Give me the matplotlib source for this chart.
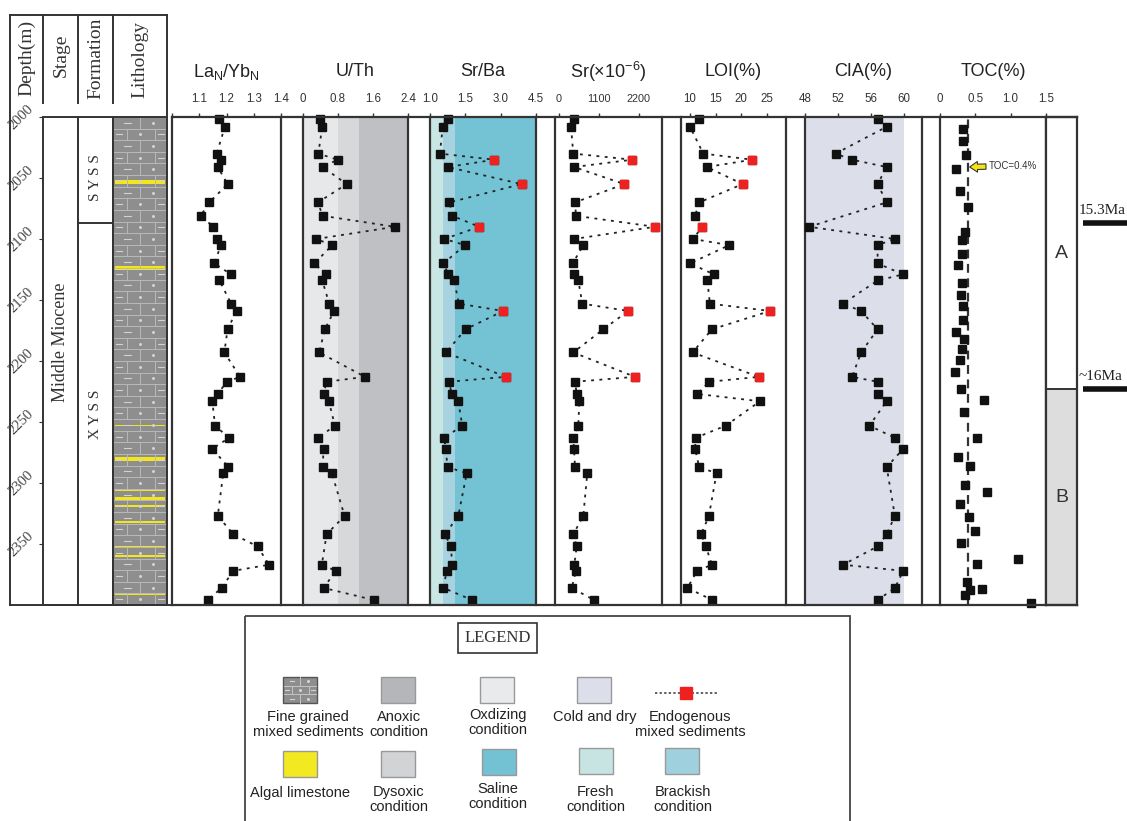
import numpy as np
import matplotlib.pyplot as plt
from matplotlib.patches import Rectangle

plt.rcParams['font.family'] = ['Liberation Sans', 'DejaVu Sans']
SERIF = ['Liberation Serif', 'DejaVu Serif']

W, H = 1127, 821
TOP, BOT = 117, 605          # pixel rows of depth 2000 m and 2400 m
D0, D1 = 2000, 2400

# ---- data ----
# samples shared by La/Yb, Sr/Ba, Sr and LOI
depth = [2002, 2008, 2030, 2035, 2041, 2055, 2070, 2081, 2090, 2100, 2105, 2120,
         2129, 2134, 2153, 2159, 2174, 2193, 2213, 2217, 2227, 2233, 2253, 2263,
         2272, 2287, 2292, 2327, 2342, 2352, 2367, 2372, 2386, 2396]
la_yb = [1.174, 1.194, 1.164, 1.180, 1.168, 1.204, 1.137, 1.105, 1.152, 1.164, 1.180, 1.155,
         1.217, 1.174, 1.217, 1.237, 1.204, 1.192, 1.250, 1.201, 1.168, 1.148, 1.158, 1.209,
         1.148, 1.207, 1.188, 1.168, 1.225, 1.314, 1.356, 1.225, 1.182, 1.131]
sr_ba = [0.75, 0.54, 0.42, 2.73, 0.75, 3.89, 0.82, 0.95, 2.09, 0.61, 1.49, 0.57,
         0.78, 1.02, 1.23, 3.11, 1.51, 0.68, 3.21, 0.81, 0.92, 1.20, 1.37, 0.61,
         0.66, 0.75, 1.56, 1.20, 0.64, 0.88, 0.95, 0.71, 0.57, 1.80]
sr = [413, 330, 393, 2016, 413, 1796, 440, 468, 2640, 413, 668, 377,
      413, 531, 641, 1906, 1218, 393, 2090, 440, 487, 558, 531, 393,
      413, 440, 778, 668, 393, 487, 421, 468, 349, 971]
loi = [11.8, 10.0, 12.6, 22.2, 13.3, 20.3, 11.8, 11.0, 12.4, 10.6, 17.7, 10.0,
       14.7, 13.4, 13.9, 25.7, 14.3, 10.5, 23.5, 13.8, 11.4, 23.7, 17.0, 11.1,
       11.0, 11.8, 15.2, 13.7, 12.2, 13.1, 14.3, 11.4, 9.5, 14.4]
endogenous = [2035, 2055, 2090, 2159, 2213]

depth_uth = [2002, 2008, 2030, 2035, 2041, 2055, 2070, 2081, 2090, 2100, 2105, 2120,
             2129, 2134, 2153, 2159, 2174, 2193, 2213, 2217, 2227, 2233, 2253, 2263,
             2272, 2287, 2292, 2327, 2342, 2367, 2372, 2386, 2396]
u_th = [0.39, 0.44, 0.35, 0.79, 0.45, 1.00, 0.34, 0.45, 2.10, 0.30, 0.67, 0.26,
        0.52, 0.44, 0.60, 0.71, 0.50, 0.37, 1.42, 0.54, 0.47, 0.59, 0.73, 0.34,
        0.47, 0.45, 0.66, 0.95, 0.54, 0.43, 0.75, 0.47, 1.63]

depth_cia = [2002, 2008, 2030, 2035, 2041, 2055, 2070, 2090, 2100, 2105, 2120, 2129,
             2134, 2153, 2159, 2174, 2193, 2213, 2217, 2227, 2233, 2253, 2263, 2272,
             2287, 2327, 2342, 2352, 2367, 2372, 2386, 2396]
cia = [56.8, 57.9, 51.7, 53.7, 57.9, 56.8, 57.9, 48.5, 58.9, 56.8, 56.8, 59.9,
       56.8, 52.6, 54.8, 56.8, 54.8, 53.7, 56.8, 56.8, 57.9, 55.8, 58.9, 59.9,
       57.9, 58.9, 57.9, 56.8, 52.6, 59.9, 58.9, 56.8]

depth_toc = [2010, 2020, 2031, 2043, 2061, 2074, 2094, 2101, 2112, 2121, 2136, 2146,
             2155, 2166, 2176, 2182, 2190, 2199, 2209, 2223, 2232, 2242, 2263, 2279,
             2286, 2302, 2307, 2317, 2328, 2339, 2349, 2362, 2366, 2381, 2387, 2388,
             2392, 2398]
toc = [0.32, 0.32, 0.37, 0.23, 0.28, 0.39, 0.36, 0.31, 0.31, 0.26, 0.31, 0.30,
       0.33, 0.33, 0.22, 0.34, 0.31, 0.28, 0.21, 0.30, 0.62, 0.34, 0.52, 0.25,
       0.42, 0.36, 0.66, 0.29, 0.41, 0.50, 0.30, 1.10, 0.53, 0.38, 0.60, 0.43,
       0.36, 1.29]
toc_ref = 0.4

uth_zones = [(0, 0.8, '#e7e8ea'), (0.8, 1.28, '#d7d8da'), (1.28, 2.4, '#bfc0c3')]
srba_zones = [(0, 0.55, '#c8e6e4'), (0.55, 1.05, '#a6d3df'), (1.05, 4.5, '#74c3d4')]
cia_zone = (48, 60)

syss_base = 2087
ab_boundary = 2223
age_marks = [2087, 2223]
age_labels = ['15.3Ma', '~16Ma']
algal_beds = [2053, 2124, 2253, 2280, 2306, 2313, 2319, 2332, 2352, 2360, 2391]
algal_thick = [3.2, 3.2, 1.0, 3.2, 1.2, 3.2, 1.2, 1.2, 1.2, 1.2, 1.6]

fig = plt.figure(figsize=(W / 100, H / 100), dpi=100)
fig.patch.set_facecolor('white')


def px_axes(x0, x1, y0=TOP, y1=BOT, **kw):
    return fig.add_axes([x0 / W, 1 - y1 / H, (x1 - x0) / W, (y1 - y0) / H], **kw)


def bricks(ax, x0, x1, y0, y1, n_rows, lc='#b9b9b9', mc='#d2d2d2'):
    h = (y1 - y0) / n_rows
    w = x1 - x0
    for i in range(n_rows):
        top = y0 + i * h
        mid = top + h / 2
        if i > 0:
            ax.plot([x0, x1], [top, top], color=lc, lw=0.7)
        if i % 2 == 0:
            joints, dashes, dots = [0.5], [0.26], [0.76]
        else:
            joints, dashes, dots = [0.25, 0.78], [0.1, 0.9], [0.5]
        for j in joints:
            ax.plot([x0 + j * w] * 2, [top, top + h], color=lc, lw=0.7)
        for j in dashes:
            ax.plot([x0 + (j - 0.06) * w, x0 + (j + 0.06) * w], [mid, mid], color=mc, lw=0.8)
        for j in dots:
            ax.plot(x0 + j * w, mid, marker='o', ms=1.2, color=mc)


# ---- continuous top/bottom lines of the data panels ----
frame = px_axes(172, 1077, zorder=5)
frame.set_facecolor('none')
frame.set_xticks([]); frame.set_yticks([])
frame.spines['left'].set_visible(False)
frame.spines['right'].set_visible(False)
for s in ('top', 'bottom'):
    frame.spines[s].set_linewidth(1.6)
    frame.spines[s].set_color('#333')


def panel(x0, x1, xlim, ticks, labels, title, lsize=8.3):
    ax = px_axes(x0, x1)
    ax.set_facecolor('none')
    ax.set_xlim(*xlim)
    ax.set_ylim(D1, D0)
    ax.xaxis.tick_top()
    ax.set_xticks(ticks)
    ax.set_xticklabels(labels)
    ax.tick_params(axis='x', direction='out', length=3, width=1, pad=6,
                   labelsize=lsize, labelcolor='#333', color='#333')
    ax.set_yticks([])
    for s in ('top', 'bottom'):
        ax.spines[s].set_visible(False)
    for s in ('left', 'right'):
        ax.spines[s].set_linewidth(1.6)
        ax.spines[s].set_color('#333')
    ax.text(0.5, 1 + (TOP - 72) / (BOT - TOP), title, transform=ax.transAxes,
            ha='center', va='center', fontsize=13, color='#222')
    return ax


def profile(ax, d, v, red=None):
    ax.plot(v, d, color='#222', ls=(0, (1.6, 3)), lw=1.3, marker='s', ms=5.5,
            mfc='#111', mec='#111', clip_on=False, zorder=3)
    if red is not None:
        d = np.array(d); v = np.array(v)
        m = np.isin(d, red)
        ax.plot(v[m], d[m], ls='none', marker='s', ms=5.5, mfc='#ee2020', mec='#ee2020',
                clip_on=False, zorder=4)


ax1 = panel(172, 281, (1.0, 1.4), [1.0, 1.1, 1.2, 1.3, 1.4], ['', '1.1', '1.2', '1.3', '1.4'],
            r'La$_\mathregular{N}$/Yb$_\mathregular{N}$')
profile(ax1, depth, la_yb)

ax2 = panel(303, 408, (0, 2.4), [0, 0.8, 1.6, 2.4], ['0', '0.8', '1.6', '2.4'], 'U/Th')
for a, b, c in uth_zones:
    ax2.axvspan(a, b, color=c, lw=0, zorder=0)
profile(ax2, depth_uth, u_th)

ax3 = panel(430, 536, (0, 4.5), [0, 1.5, 3.0, 4.5], ['1.0', '1.5', '3.0', '4.5'], 'Sr/Ba')
for a, b, c in srba_zones:
    ax3.axvspan(a, b, color=c, lw=0, zorder=0)
profile(ax3, depth, sr_ba, endogenous)

ax4 = panel(555, 662, (-110, 2833), [0, 1100, 2200], ['0', '1100', '2200'],
            'Sr(×10$^{\\mathregular{-6}}$)', lsize=7.8)
profile(ax4, depth, sr, endogenous)

ax5 = panel(681, 786, (8.24, 28.8), [10, 15, 20, 25], ['10', '15', '20', '25'], 'LOI(%)')
profile(ax5, depth, loi, endogenous)

ax6 = panel(805, 922, (48, 48 + 117 / 8.25), [48, 52, 56, 60], ['48', '52', '56', '60'], 'CIA(%)')
ax6.axvspan(*cia_zone, color='#dcdfea', lw=0, zorder=0)
profile(ax6, depth_cia, cia)

ax7 = panel(940, 1046, (0, 1.5), [0, 0.5, 1.0, 1.5], ['0', '0.5', '1.0', '1.5'], 'TOC(%)')
ax7.axvline(toc_ref, color='#333', lw=1.6, ls=(0, (4, 2.5)), zorder=2)
ax7.plot(toc, depth_toc, ls='none', marker='s', ms=5.2, mfc='#111', mec='#111',
         clip_on=False, zorder=3)
ax7.annotate('TOC=0.4%', xy=(toc_ref + 0.02, 2041), xytext=(0.69, 2040),
             fontsize=7, va='center', ha='left', color='#333',
             arrowprops=dict(arrowstyle='simple,head_width=1.1,head_length=0.8,tail_width=0.55',
                             fc='#f2e21a', ec='#222', lw=0.7, shrinkA=0, shrinkB=0))

# A / B column
axz = px_axes(1046, 1077)
axz.set_xlim(0, 1); axz.set_ylim(D1, D0)
axz.set_xticks([]); axz.set_yticks([])
axz.axhspan(ab_boundary, D1, color='#dddddd', lw=0)
axz.axhline(ab_boundary, color='#333', lw=1.4)
axz.text(0.5, (D0 + ab_boundary) / 2, 'A', ha='center', va='center', fontsize=14, color='#333')
axz.text(0.5, (ab_boundary + D1) / 2, 'B', ha='center', va='center', fontsize=14, color='#333')
for s in axz.spines.values():
    s.set_linewidth(1.6); s.set_color('#333')

# age marks at the right
axa = px_axes(1077, 1127)
axa.set_xlim(0, 1); axa.set_ylim(D1, D0)
axa.axis('off')
for d, lab in zip(age_marks, age_labels):
    axa.plot([0.12, 1.0], [d, d], color='#111', lw=4, solid_capstyle='butt')
    axa.text(0.04, d - 10, lab, ha='left', va='center', fontsize=11, family=SERIF,
             color='#222', clip_on=False)

# ---- left columns: stage, formation, lithology ----
def column(x0, x1):
    ax = px_axes(x0, x1)
    ax.set_xlim(0, 1); ax.set_ylim(D1, D0)
    ax.set_xticks([]); ax.set_yticks([])
    for s in ax.spines.values():
        s.set_linewidth(1.4); s.set_color('#333')
    return ax


ax_st = column(43, 78)
ax_st.set_yticks(range(2000, 2351, 50))
ax_st.tick_params(axis='y', direction='out', length=3, pad=2, labelsize=10.5,
                  labelcolor='#444', color='#333')
for lab in ax_st.get_yticklabels():
    lab.set_rotation(45)
    lab.set_ha('right')
    lab.set_va('center')
    lab.set_family(SERIF)
ax_st.text(0.5, 2185, 'Middle Miocene', rotation=90, ha='center', va='center',
           fontsize=13, family=SERIF, color='#333')

ax_fm = column(78, 113)
ax_fm.axhline(syss_base, color='#333', lw=1.4)
ax_fm.text(0.5, (D0 + syss_base) / 2 + 6, 'S Y S S', rotation=90, ha='center', va='center',
           fontsize=11, family=SERIF, color='#333')
ax_fm.text(0.5, (syss_base + D1) / 2, 'X Y S S', rotation=90, ha='center', va='center',
           fontsize=11, family=SERIF, color='#333')

ax_li = column(113, 167)
ax_li.set_facecolor('#8e8e8e')
bricks(ax_li, 0.02, 0.98, D0, D1, 42)
for d, t in zip(algal_beds, algal_thick):
    ax_li.axhspan(d - t / 2, d + t / 2, xmin=0.03, xmax=0.97, color='#f3e61a', lw=0)

# ---- overlay in pixel coordinates: header grid and legend ----
ov = fig.add_axes([0, 0, 1, 1], zorder=6)
ov.set_xlim(0, W); ov.set_ylim(H, 0)
ov.axis('off')
lk = dict(color='#333', lw=1.4)
ov.plot([10, 167], [15, 15], **lk)
ov.plot([10, 10], [15, BOT], **lk)
ov.plot([10, 172], [BOT, BOT], **lk)
for x in (43, 78, 113):
    ov.plot([x, x], [15, 103], **lk)
ov.plot([167, 167], [15, TOP], **lk)
for x, y, s in [(27, 58, 'Depth(m)'), (61, 55, 'Stage'), (96, 58, 'Formation'),
                (140, 60, 'Lithology')]:
    ov.text(x, y, s, rotation=90, ha='center', va='center', fontsize=14,
            family=SERIF, color='#333')

ov.add_patch(Rectangle((245, 616), 605, 220, fill=False, ec='#444', lw=1.3, clip_on=False))
ov.add_patch(Rectangle((458, 623), 79, 30, fill=False, ec='#333', lw=1.2))
ov.text(497.5, 638.5, 'LEGEND', ha='center', va='center', fontsize=12, family=SERIF, color='#333')

LFS = 10.5
swatches = [
    ('Anoxic\ncondition', '#b5b6b9', 381, 677, 399, 710),
    ('Oxdizing\ncondition', '#e9eaec', 480, 677, 498, 708),
    ('Cold and dry', '#dcdfea', 577, 677, 595, 710),
    ('Algal limestone', '#f3e921', 283, 751, 300, 786),
    ('Dysoxic\ncondition', '#d2d3d5', 381, 751, 399, 785),
    ('Saline\ncondition', '#72c2d3', 482, 749, 498, 782),
    ('Fresh\ncondition', '#c7e4e2', 579, 748, 596, 785),
    ('Brackish\ncondition', '#9fd0de', 665, 748, 683, 785),
]
for lab, c, sx, sy, tx, ty in swatches:
    ov.add_patch(Rectangle((sx, sy), 34, 26, fc=c, ec='#999', lw=1))
    ov.text(tx, ty, lab, ha='center', va='top', fontsize=LFS, color='#222', linespacing=1.1)

ov.add_patch(Rectangle((283, 677), 34, 26, fc='#8e8e8e', ec='#555', lw=1))
bricks(ov, 284, 316, 677, 703, 3, lc='#c5c5c5', mc='#d5d5d5')
ov.text(308, 710, 'Fine grained\nmixed sediments', ha='center', va='top', fontsize=LFS,
        color='#222', linespacing=1.1)

ov.plot([655, 718], [693, 693], color='#333', lw=1.1, ls=(0, (1.5, 1.5)))
ov.plot(686, 693, marker='s', ms=8, color='#ee2020')
ov.text(690, 710, 'Endogenous\nmixed sediments', ha='center', va='top', fontsize=LFS,
        color='#222', linespacing=1.1)

fig.savefig('out.png', dpi=100)
